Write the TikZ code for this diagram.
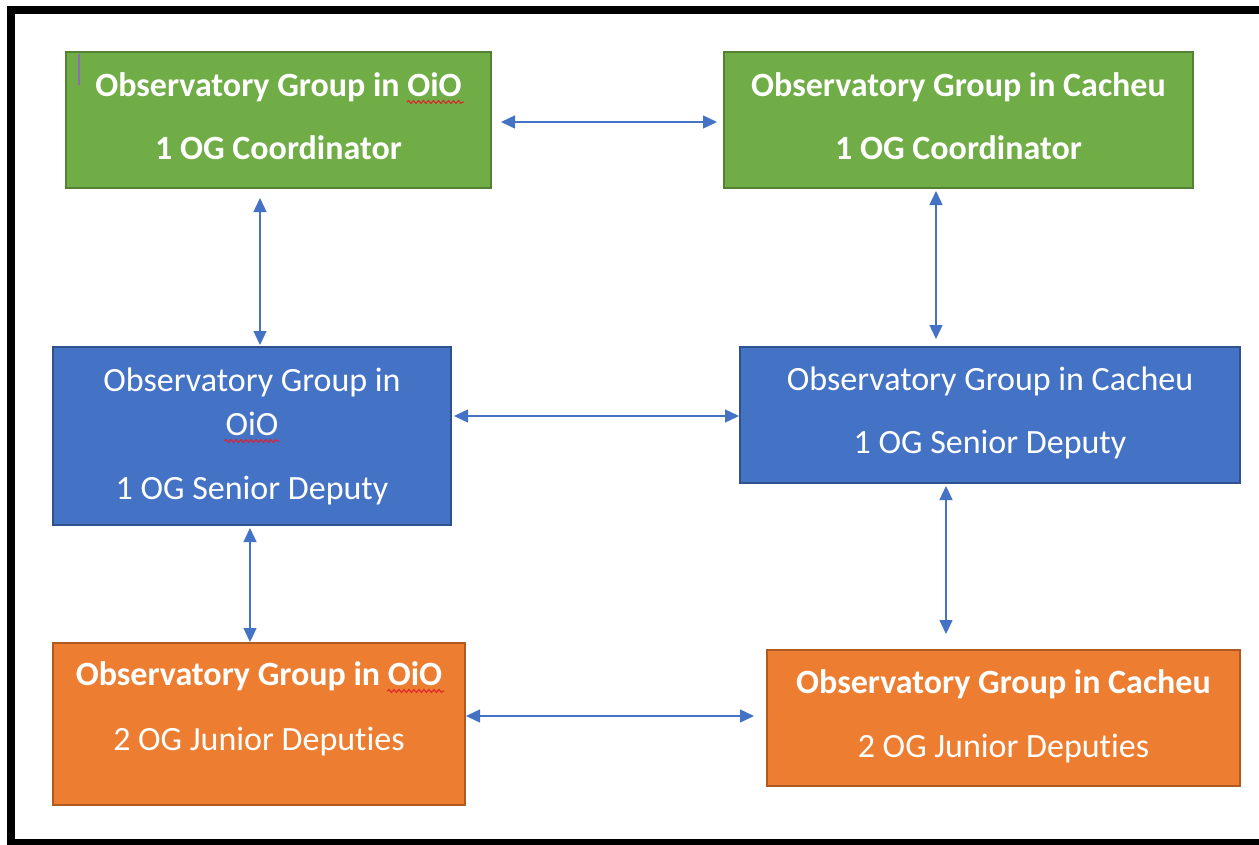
\documentclass[tikz,border=0pt]{standalone}
\usepackage{fontspec}
\setmainfont{Carlito}[Ligatures={NoCommon}]
\usetikzlibrary{arrows.meta,calc,decorations.pathmorphing}
\definecolor{ggreen}{HTML}{70AD47}
\definecolor{ggreenb}{HTML}{548235}
\definecolor{gblue}{HTML}{4472C4}
\definecolor{gblueb}{HTML}{2F528F}
\definecolor{gorange}{HTML}{ED7D31}
\definecolor{gorangeb}{HTML}{AE5A21}
\definecolor{arrcol}{HTML}{4472C4}
\definecolor{spell}{HTML}{E0202A}
\definecolor{cursorcol}{HTML}{8E6BB5}
\begin{document}
\begin{tikzpicture}[x=1pt,y=-1pt,
  box/.style={rectangle, line width=2pt, minimum height=#1, inner sep=0pt},
  greenbox/.style={box=136pt, fill=ggreen, draw=ggreenb},
  bluebox/.style={box=#1, fill=gblue, draw=gblueb},
  orangebox/.style={box=#1, fill=gorange, draw=gorangeb},
  txt/.style={anchor=base, text=white, font=\fontsize{34}{40}\selectfont, inner sep=0pt},
  btxt/.style={txt, font=\fontsize{34}{40}\selectfont\bfseries},
  conn/.style={draw=arrcol, line width=1.4pt, {Triangle[length=14pt,width=13pt]}-{Triangle[length=14pt,width=13pt]}},
  wavy/.style={draw=spell, line width=1pt, decorate, decoration={snake, amplitude=1.5pt, segment length=5pt}},
  frame/.style={line width=8pt, black}]
\useasboundingbox (0,0) rectangle (1259,844);
% outer frame
\draw[frame] (11,843) -- (11,10) -- (1259,10);
\draw[frame] (7,843) -- (1259,843);

% boxes
\node[greenbox, minimum width=425pt] (g1) at (278.5,120) {};
\node[greenbox, minimum width=469pt] (g2) at (958.5,120) {};
\node[bluebox=178pt, minimum width=398pt] (b1) at (252,436) {};
\node[bluebox=136pt, minimum width=500pt] (b2) at (990,415) {};
\node[orangebox=162pt, minimum width=412pt] (o1) at (259,724) {};
\node[orangebox=136pt, minimum width=473pt] (o2) at (1003.5,718) {};

% texts
\node[btxt] (g1a) at (278.5,96) {Observatory Group in OiO};
\node[btxt] (g1b) at (278.5,159) {1 OG Coordinator};
\node[btxt] (g2a) at (958.5,96) {Observatory Group in Cacheu};
\node[btxt] (g2b) at (958.5,159) {1 OG Coordinator};
\node[txt] (b1a) at (252,391) {Observatory Group in};
\node[txt] (b1b) at (252,435) {OiO};
\node[txt] (b1c) at (252,499) {1 OG Senior Deputy};
\node[txt] (b2a) at (990,390) {Observatory Group in Cacheu};
\node[txt] (b2b) at (990,453) {1 OG Senior Deputy};
\node[btxt] (o1a) at (259,685) {Observatory Group in OiO};
\node[txt] (o1b) at (259,750) {2 OG Junior Deputies};
\node[btxt] (o2a) at (1003.5,693) {Observatory Group in Cacheu};
\node[txt] (o2b) at (1003.5,757) {2 OG Junior Deputies};

% spell-check underlines
\draw[wavy] ($(g1a.base east)+(-55,6)$) -- ($(g1a.base east)+(2,6)$);
\draw[wavy] ($(b1b.base west)+(-1,6)$) -- ($(b1b.base east)+(1,6)$);
\draw[wavy] ($(o1a.base east)+(-55,6)$) -- ($(o1a.base east)+(2,6)$);

% text cursor
\draw[cursorcol, line width=1.2pt] ($(g1.north west)+(14,3)$) -- ($(g1.north west)+(14,34)$);

% connectors
\draw[conn] ($(g1.east)+(9,2)$) -- ($(g2.west)+(-6,2)$);
\draw[conn] ($(g1.south)+(-18.5,9)$) -- ($(b1.north)+(8,-1)$);
\draw[conn] ($(g2.south)+(-22.5,2)$) -- ($(b2.north)+(-54,-7)$);
\draw[conn] ($(b1.east)+(2,-20)$) -- ($(b2.west)+(0,1)$);
\draw[conn] ($(b1.south)+(-2,2)$) -- ($(o1.north)+(-9,0)$);
\draw[conn] ($(b2.south)+(-44,2)$) -- ($(o2.north)+(-57.5,-15)$);
\draw[conn] ($(o1.east)+(0,-8)$) -- ($(o2.west)+(-12,-2)$);
\end{tikzpicture}
\end{document}
